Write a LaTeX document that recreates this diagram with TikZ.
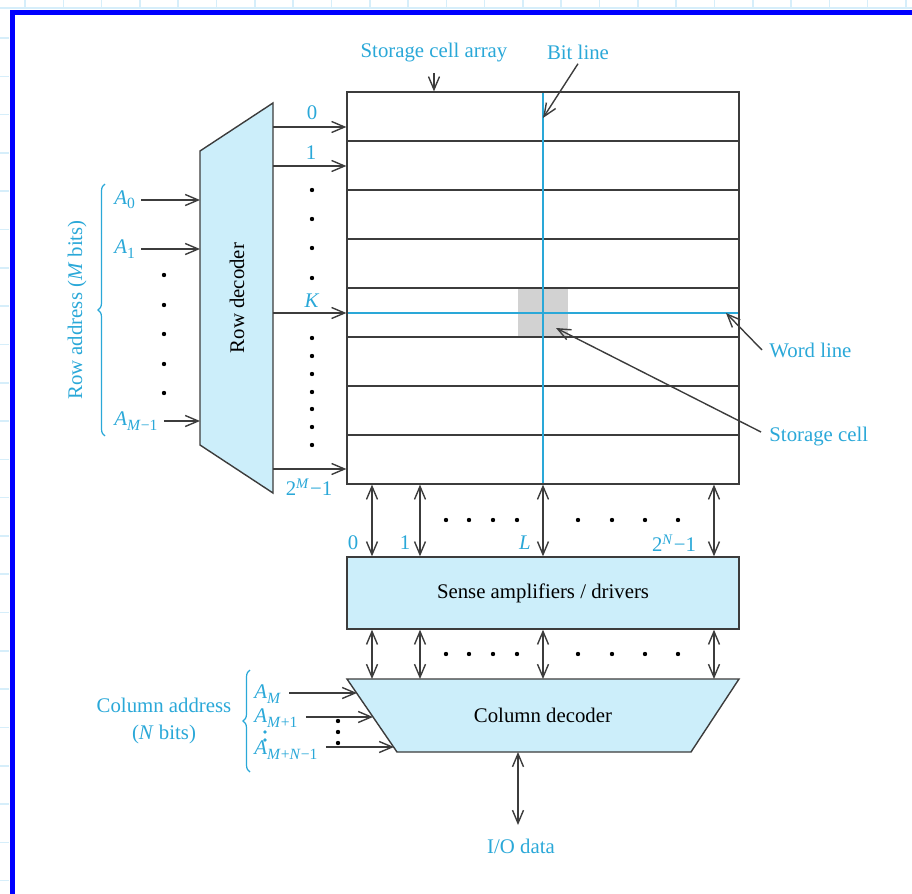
\documentclass[tikz,border=0pt]{standalone}
\usepackage{fontspec}
\setmainfont{Liberation Serif}
\usetikzlibrary{arrows.meta,decorations.pathreplacing}

\definecolor{cian}{HTML}{2AA8D8}
\definecolor{relleno}{HTML}{CCEEFA}
\definecolor{gris}{HTML}{3C3C3C}
\definecolor{marco}{HTML}{0000FF}
\definecolor{rejilla}{HTML}{D6EEFA}

\tikzset{
  flecha/.style={draw=gris, line width=0.7pt, -{Straight Barb[length=6.5pt,width=5.5pt]}},
  doble/.style={draw=gris, line width=0.7pt, {Straight Barb[length=6.5pt,width=5.5pt]}-{Straight Barb[length=6.5pt,width=5.5pt]}},
  etiq/.style={text=cian, inner sep=0pt},
  texto/.style={text=black, inner sep=0pt},
  punto/.style={circle, fill=black, inner sep=0pt, minimum size=2.2pt},
  puntoc/.style={circle, fill=cian, inner sep=0pt, minimum size=1.8pt},
  llave/.style={draw=cian, line width=0.6pt, decorate, decoration={brace, amplitude=3.5pt}},
  fila/.style={draw=gris, line width=0.6pt},
}
\newcommand{\Ad}[1]{\textit{A}\raisebox{-0.45ex}{\fontsize{7.8}{8}\selectfont #1}}

\begin{document}
\begin{tikzpicture}[x=0.5pt, y=-0.5pt, font=\fontsize{10.4}{12.5}\selectfont]
\useasboundingbox (0,0) rectangle (912,894);

% Fondo y marco
\foreach \x in {25, 63.3, ..., 912}
	\draw[rejilla, line width=0.8pt] (\x,0) -- (\x,9);
\foreach \y in {38, 76.3, ..., 894}
	\draw[rejilla, line width=0.8pt] (0,\y) -- (9,\y);
\draw[rejilla, line width=0.8pt] (0,8) -- (912,8);
\draw[marco, line width=2.5pt] (12,894) -- (12,12) -- (912,12);

% Matriz de celdas
\node[fill=gray!35, minimum width=25pt, minimum height=24.5pt, inner sep=0pt] (C) at (543,313.5) {};
\foreach \i in {1,...,7}
	\draw[fila] (347,{92+49*\i}) -- (739,{92+49*\i});
\draw[cian, line width=0.6pt] (347,313) -- (739,313);
\draw[cian, line width=0.6pt] (543,92) -- (543,484);
\node[draw=gris, line width=0.6pt, minimum width=196pt, minimum height=196pt, inner sep=0pt] (M) at (543,288) {};

\node[etiq] (sa) at (434,53) {Storage cell array};
\draw[flecha] ([yshift=-5pt]sa.south) -- (sa.south |- M.north);

\node[etiq] (bl) at (578,52) {Bit line};
\coordinate (bt) at (543,118);
\draw[flecha] ([yshift=-2pt]bl.south) -- (bt);

\node[etiq, anchor=west] (wl) at (769,350) {Word line};
\coordinate (wt) at (726,313);
\draw[flecha] ([xshift=-3.5pt]wl.west) -- (wt);

\node[etiq, anchor=west] (sc) at (769,437) {Storage cell};
\coordinate (ct) at (556,328);
\draw[flecha] ([xshift=-4pt,yshift=2.5pt]sc.west) -- (ct);

% Decodificador de filas
\filldraw[fill=relleno, draw=gris, line width=0.7pt] (200,151) coordinate (D1) -- (273,103) coordinate (D2)
	-- (273,493) coordinate (D3) -- (200,445) coordinate (D4) -- cycle;
\node[texto, rotate=90] (RD) at (237,298) {Row decoder};

\foreach \y/\n in {127/0, 166/1, 313/K, 469/U} {
	\coordinate (s\n) at (D2 |- 0,\y);
	\draw[flecha] (s\n) -- (s\n -| M.west);
}
\node[etiq] (l0) at (312,113) {0};
\node[etiq] (l1) at (311,153) {1};
\node[etiq] (lK) at (312,301) {\textit{K}};
\node[etiq] (lU) at (309,487) {2\textsuperscript{\textit{M}}−1};
\foreach \y in {190, 219, 248, 278, 338, 356, 374, 392, 409, 427, 445}
	\node[punto] (p\y) at (312,\y) {};

\node[etiq, anchor=west] (a0) at (114,200) {\Ad{0}};
\node[etiq, anchor=west] (a1) at (114,249) {\Ad{1}};
\node[etiq, anchor=west] (am) at (114,421) {\Ad{\textit{M}−1}};
\foreach \n in {a0, a1, am}
	\draw[flecha] (\n.east) ++(3pt,0) -- (\n -| D1);
\foreach \y in {275, 305, 334, 364, 393}
	\node[punto] (q\y) at (164,\y) {};

\draw[llave] (105,436) -- (105,184);
\node[etiq, rotate=90] (ra) at (77,310) {Row address (\textit{M} bits)};

% Amplificadores
\node[draw=gris, fill=relleno, line width=0.7pt, minimum width=196pt, minimum height=36pt, inner sep=0pt] (SA) at (543,593) {Sense amplifiers / drivers};

\foreach \x in {372, 420, 543, 714}
	\draw[doble] (M.south -| \x,0) -- (SA.north -| \x,0);
\node[etiq] (b0) at (353,543) {0};
\node[etiq] (b1) at (405,543) {1};
\node[etiq] (bL) at (525,543) {\textit{L}};
\node[etiq] (bU) at (674,543) {2\textsuperscript{\textit{N}}−1};
\foreach \x in {446, 469, 493, 517, 578, 612, 645, 678}
	\node[punto] (r\x) at (\x,520) {};

% Decodificador de columnas
\filldraw[fill=relleno, draw=gris, line width=0.7pt] (347,679) coordinate (E1) -- (739,679) coordinate (E2)
	-- (691,752) coordinate (E3) -- (397,752) coordinate (E4) -- cycle;
\node[texto] (CD) at (543,715) {Column decoder};

\foreach \x in {372, 420, 543, 714}
	\draw[doble] (SA.south -| \x,0) -- (E1 -| \x,0);
\foreach \x in {446, 469, 493, 517, 578, 612, 645, 678}
	\node[punto] (t\x) at (\x,654) {};

\node[etiq, anchor=west] (c0) at (254,694) {\Ad{\textit{M}}};
\node[etiq, anchor=west] (c1) at (254,718) {\Ad{\textit{M}+1}};
\node[etiq, anchor=west] (c2) at (254,750) {\Ad{\textit{M}+\textit{N}−1}};
\coordinate (e0) at (357,693);
\coordinate (e1) at (373,717);
\coordinate (e2) at (394,747);
\foreach \i in {0,1,2}
	\draw[flecha] (c\i.east |- e\i) ++(4pt,0) -- (e\i);
\node[puntoc] (v1) at (265,732) {};
\node[puntoc] (v2) at (265,740) {};
\foreach \y in {721, 732, 743}
	\node[punto] (w\y) at (338,\y) {};

\draw[llave] (250,772) -- (250,670);
\node[etiq, align=center, font=\fontsize{10.4}{13.5}\selectfont] (ca) at (164,721) {Column address\\(\textit{N} bits)};

% Datos
\node[etiq] (io) at (521,846) {I/O data};
\coordinate (iob) at (518,825);
\draw[doble] (E4 -| iob) -- (iob);

\end{tikzpicture}
\end{document}
